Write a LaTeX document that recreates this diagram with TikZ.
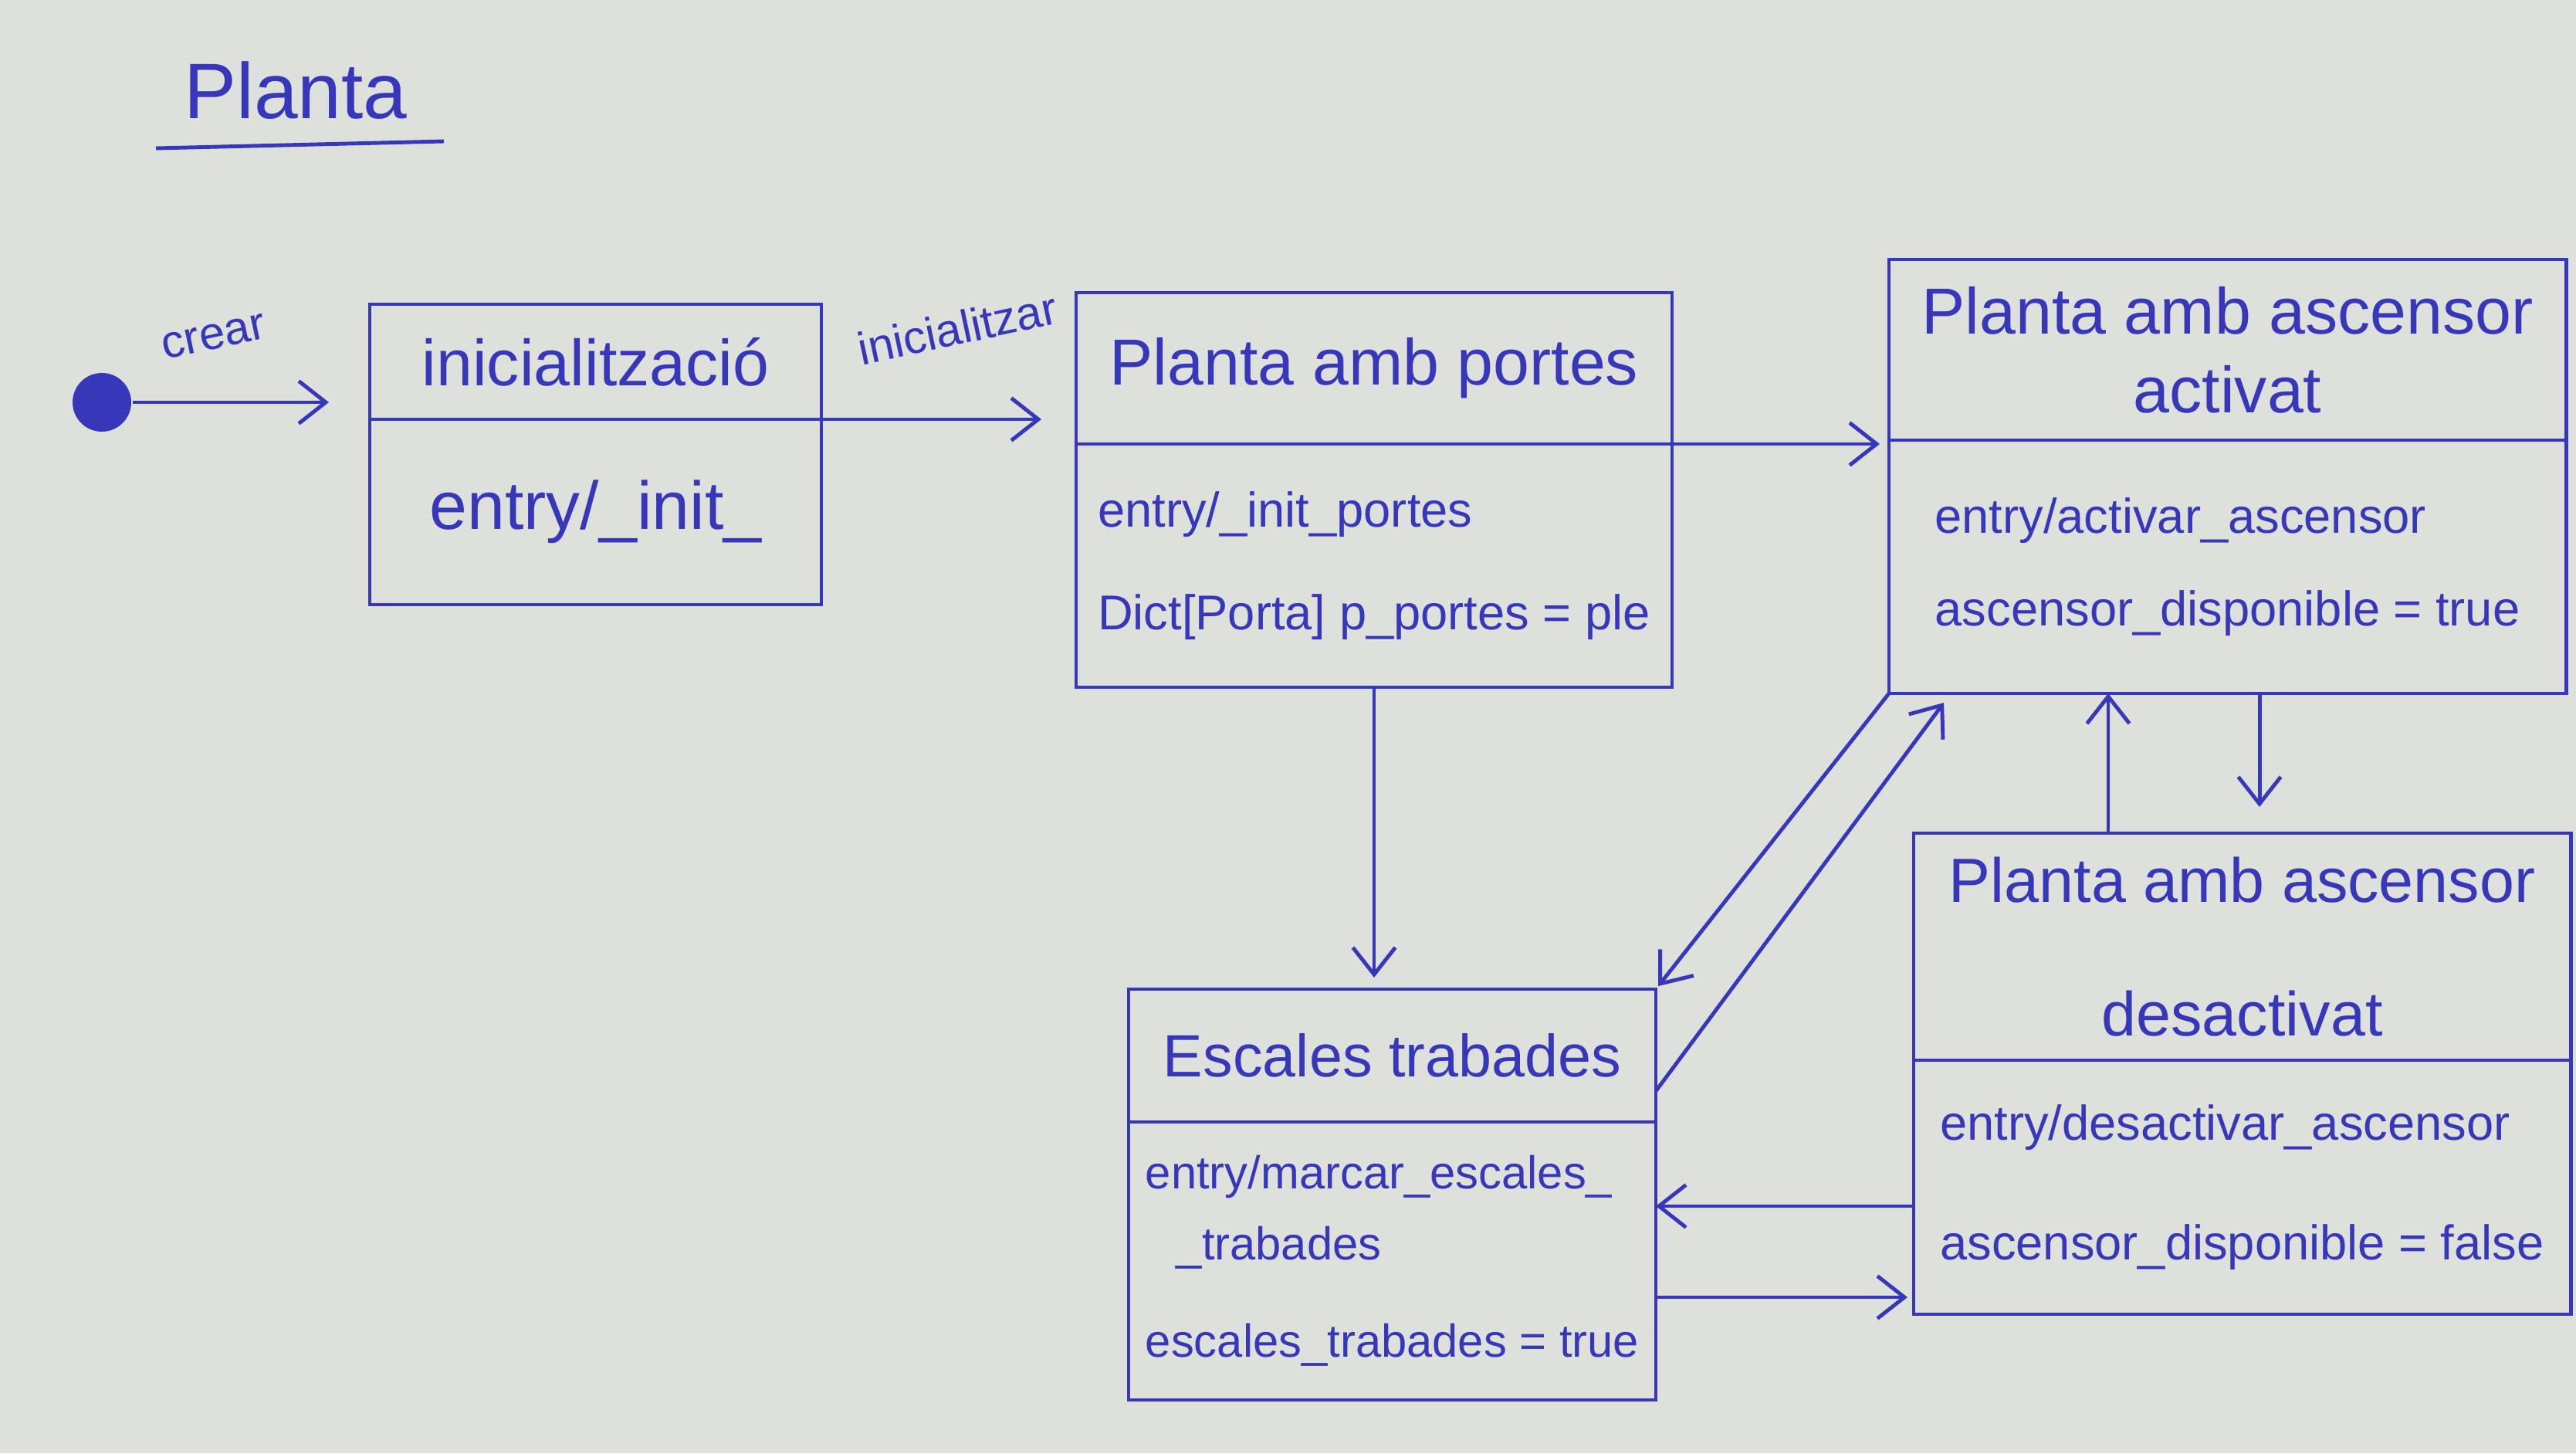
\documentclass[tikz,border=0pt]{standalone}
\usepackage{fontspec}
\setmainfont{Liberation Sans}
\usetikzlibrary{arrows.meta}
\definecolor{ink}{RGB}{55,55,185}
\definecolor{paper}{RGB}{222,224,220}
\begin{document}
\begin{tikzpicture}[line width=1.4pt]
    \tikzstyle{head}=[draw=ink, text=ink, inner sep=0pt, outer sep=0pt, anchor=north west, align=center, font=\fontsize{24}{29}\selectfont]
    \tikzstyle{body}=[draw=ink, text=ink, inner sep=0pt, outer sep=0pt, anchor=north west, align=left, font=\fontsize{18}{34}\selectfont]
    \tikzstyle{lbl}=[text=ink, inner sep=0pt, font=\fontsize{17}{22}\selectfont]
    \tikzstyle{arr}=[draw=ink, -{Straight Barb[length=3.5mm,width=5.5mm]}]
    \fill[paper] (0,0) rectangle (33.37,-18.82);
    % title
    \node[text=ink, font=\fontsize{29}{34}\selectfont] (titol) at (3.83,-1.17) {Planta};
    \draw[ink] (2.02,-1.92) -- (5.75,-1.83);
    % states
    \node[circle, fill=ink, minimum size=0.76cm, inner sep=0pt] (ini) at (1.32,-5.21) {};
    \node[head, minimum width=5.85cm, minimum height=1.49cm] (t1) at (4.79,-3.94) {inicialització};
    \node[body, minimum width=5.85cm, minimum height=2.40cm, font=\fontsize{25}{30}\selectfont] (b1) at (t1.south west) {entry/\_init\_};
    \node[head, minimum width=7.72cm, minimum height=1.96cm] (t2) at (13.94,-3.79) {Planta amb portes};
    \node[body, minimum width=7.72cm, minimum height=3.15cm] (b2) at (t2.south west) {entry/\_init\_portes\\[4pt]Dict[Porta] p\_portes = ple};
    \node[head, minimum width=8.77cm, minimum height=2.34cm] (t3) at (24.47,-3.36) {Planta amb ascensor\\activat};
    \node[body, minimum width=8.77cm, minimum height=3.28cm] (b3) at (t3.south west) {entry/activar\_ascensor\\ascensor\_disponible = true};
    \node[head, minimum width=6.83cm, minimum height=1.72cm, font=\fontsize{22}{27}\selectfont] (t4) at (14.62,-12.81) {Escales trabades};
    \node[body, minimum width=6.83cm, minimum height=3.60cm, font=\fontsize{17}{26}\selectfont] (b4) at (t4.south west) {entry/marcar\_escales\_\\\hspace*{0.4cm}\_trabades\\[10pt]escales\_trabades = true};
    \node[head, minimum width=8.51cm, minimum height=2.94cm, font=\fontsize{23}{29}\selectfont] (t5) at (24.79,-10.79) {Planta amb ascensor\\[20pt]desactivat};
    \node[body, minimum width=8.51cm, minimum height=3.29cm] (b5) at (t5.south west) {entry/desactivar\_ascensor\\[10pt]ascensor\_disponible = false};
    % transitions
    \draw[arr, shorten >=0.53cm] (ini) -- (ini -| t1.west);
    \node[lbl, rotate=12] (lcrear) at (2.77,-4.36) {crear};
    \draw[arr, shorten >=0.45cm] (t1.south east) -- (t1.south east -| t2.west);
    \node[lbl, rotate=12] (linit) at (12.40,-4.25) {inicialitzar};
    \draw[arr, shorten >=0.12cm] (b2.north east) -- (b2.north east -| t3.west);
    \draw[arr, shorten >=0.15cm] (b2.south) -- (b2.south |- t4.north);
    \draw[arr, shorten >=0.05cm] (b3.south west) -- (t4.north east);
    \draw[arr, shorten >=0.15cm] ([yshift=0.4cm]t4.south east) -- ([xshift=0.8cm]b3.south west);
    \coordinate (up) at (27.31,-10.79);
    \draw[arr] (up) -- (up |- b3.south);
    \coordinate (down) at (29.27,-10.45);
    \draw[arr] (down |- b3.south) -- (down);
    \coordinate (hl) at (24.79,-15.62);
    \draw[arr] (hl -| b5.west) -- (hl -| b4.east);
    \coordinate (hr) at (21.50,-16.80);
    \draw[arr, shorten >=0.08cm] (hr -| b4.east) -- (hr -| b5.west);
\end{tikzpicture}
\end{document}
